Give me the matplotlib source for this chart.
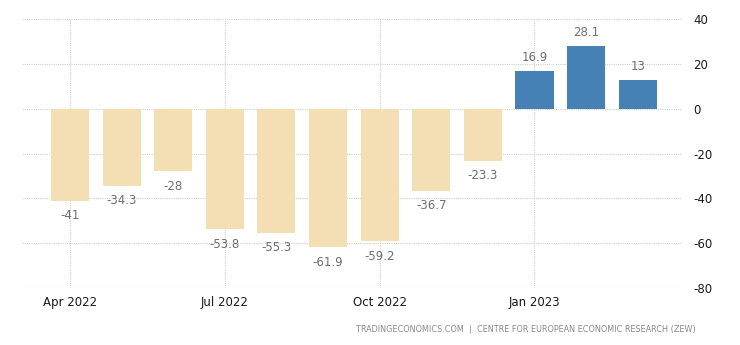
import matplotlib
matplotlib.use("Agg")
import matplotlib.pyplot as plt

months = ["Apr 2022", "May 2022", "Jun 2022", "Jul 2022", "Aug 2022", "Sep 2022",
          "Oct 2022", "Nov 2022", "Dec 2022", "Jan 2023", "Feb 2023", "Mar 2023"]
values = [-41, -34.3, -28, -53.8, -55.3, -61.9, -59.2, -36.7, -23.3, 16.9, 28.1, 13]
labels = ["-41", "-34.3", "-28", "-53.8", "-55.3", "-61.9", "-59.2", "-36.7", "-23.3", "16.9", "28.1", "13"]
tick_labels = ["Apr 2022", "Jul 2022", "Oct 2022", "Jan 2023"]
yticks = [40, 20, 0, -20, -40, -60, -80]

fig = plt.figure(figsize=(7.40, 3.45), dpi=100)
ax = fig.add_axes([22/740, 57/345, 660/740, 269/345])

x = list(range(len(values)))
colors = ["#F4DEB3" if v < 0 else "#4681B6" for v in values]
ax.bar(x, values, width=0.74, color=colors, zorder=2)

for xi, v, lab in zip(x, values, labels):
    if v < 0:
        ax.text(xi, v - 3.8, lab, ha="center", va="top", fontsize=8.5, color="#6e6e6e")
    else:
        ax.text(xi, v + 3, lab, ha="center", va="bottom", fontsize=8.5, color="#6e6e6e")

ax.set_xlim(-0.93, 11.86)
ax.set_ylim(-80, 40)
ax.set_xticks([months.index(t) for t in tick_labels])
ax.set_xticklabels(tick_labels, fontsize=8.5, color="#1a1a1a", fontweight="medium")
ax.set_yticks(yticks)
ax.set_yticklabels([str(t) for t in yticks], fontsize=8.5, color="#1a1a1a", fontweight="medium")
ax.yaxis.tick_right()
ax.tick_params(axis="both", length=0)
ax.tick_params(axis="y", pad=8)
ax.tick_params(axis="x", pad=6)
ax.grid(True, color="#d0d0d0", linestyle=(0, (1, 1)), linewidth=0.8, zorder=0)
for s in ax.spines.values():
    s.set_visible(False)

fig.text(696/740, 1 - 330/345, "TRADINGECONOMICS.COM  |  CENTRE FOR EUROPEAN ECONOMIC RESEARCH (ZEW)",
         ha="right", va="center", fontsize=5.9, color="#888888")

fig.savefig("out.png", dpi=100, facecolor="white")
